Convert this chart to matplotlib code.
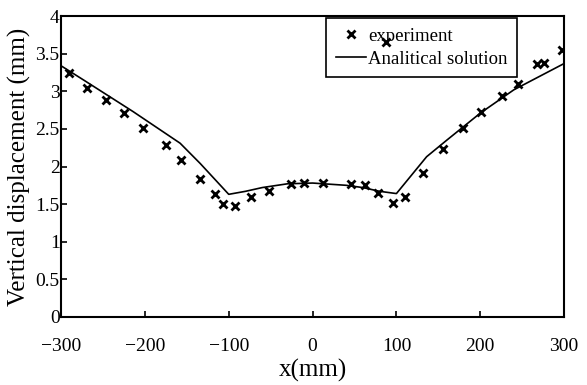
import matplotlib
matplotlib.use("Agg")
import matplotlib.pyplot as plt

exp_x = [-291, -269, -246, -225, -202, -175, -157, -134, -116, -107, -93, -74, -52, -26, -10, 13, 46, 63, 78, 96, 110, 132, 156, 179, 201, 226, 245, 268, 276, 297, 88]
exp_y = [3.25, 3.04, 2.88, 2.71, 2.51, 2.28, 2.08, 1.84, 1.64, 1.50, 1.47, 1.59, 1.68, 1.77, 1.78, 1.78, 1.77, 1.75, 1.65, 1.52, 1.59, 1.92, 2.23, 2.51, 2.73, 2.94, 3.10, 3.36, 3.38, 3.55, 3.66]

ana_x = [-300, -273, -214, -158, -134, -100, -80, -60, -30, 0, 40, 60, 80, 100, 136, 160, 200, 240, 300]
ana_y = [3.34, 3.15, 2.73, 2.31, 2.04, 1.63, 1.67, 1.72, 1.77, 1.78, 1.75, 1.72, 1.67, 1.64, 2.13, 2.35, 2.71, 3.02, 3.37]

x_ticks = [-300, -200, -100, 0, 100, 200, 300]
y_ticks = [0, 0.5, 1, 1.5, 2, 2.5, 3, 3.5, 4]

plt.rcParams['font.family'] = ['Liberation Serif', 'DejaVu Serif']
plt.rcParams['font.size'] = 14

fig = plt.figure(figsize=(5.87, 3.85), dpi=100)
ax = fig.add_axes([0.104, 0.177, 0.857, 0.781])

ax.plot(ana_x, ana_y, color='black', lw=1.2, label='Analitical solution', zorder=3)
ax.plot(exp_x, exp_y, linestyle='none', marker='x', color='black', ms=6, mew=2, label='experiment', zorder=4)

ax.set_xlim(-300, 300)
ax.set_ylim(0, 4)
ax.set_xticks(x_ticks)
ax.set_yticks(y_ticks)
ax.set_yticklabels(['0', '0.5', '1', '1.5', '2', '2.5', '3', '3.5', '4'])
ax.tick_params(axis='both', direction='in', length=4, width=1.2, top=False, right=False, labelsize=14)
ax.tick_params(axis='x', pad=15)
ax.tick_params(axis='y', pad=1)
for s in ax.spines.values():
    s.set_linewidth(1.5)

ax.set_xlabel('x(mm)', fontsize=18, labelpad=3)
ax.set_ylabel('Vertical displacement (mm)', fontsize=18, labelpad=3)

handles, labels = ax.get_legend_handles_labels()
leg = ax.legend(handles[::-1], labels[::-1], loc='upper right', bbox_to_anchor=(0.907, 0.993),
                frameon=True, fancybox=False, edgecolor='black', framealpha=1,
                fontsize=13.5, borderpad=0.5, handlelength=1.6, handletextpad=0.15, labelspacing=0.3,
                borderaxespad=0)
leg.get_frame().set_linewidth(1.2)
leg.set_zorder(2)

fig.savefig('out.png', dpi=100)
